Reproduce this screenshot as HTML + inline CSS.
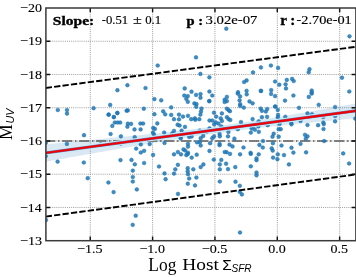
<!DOCTYPE html><html><head><meta charset="utf-8"><style>circle{fill:#1f77b4;fill-opacity:0.85;stroke:#1f77b4;stroke-opacity:0.85;stroke-width:0.6px;}html,body{margin:0;padding:0;background:#fff;}svg{display:block;}</style></head><body>
<div style="will-change:transform;width:356px;height:277px"><svg width="356" height="277" viewBox="0 0 356 277">
<rect width="356" height="277" fill="#fff"/>
<defs><clipPath id="c"><rect x="45.9" y="8.0" width="310.0" height="232.7"/></clipPath></defs>
<path d="M90.25 8.0V240.7M152.60 8.0V240.7M214.95 8.0V240.7M277.30 8.0V240.7M339.65 8.0V240.7M45.9 41.24H355.9M45.9 74.49H355.9M45.9 107.73H355.9M45.9 140.97H355.9M45.9 174.21H355.9M45.9 207.46H355.9" stroke="#939393" stroke-width="0.9" stroke-dasharray="1 1.1" fill="none"/>
<g clip-path="url(#c)">
<polygon points="45.90,144.14 51.07,143.66 56.23,143.17 61.40,142.69 66.57,142.20 71.73,141.71 76.90,141.22 82.07,140.73 87.23,140.24 92.40,139.74 97.57,139.24 102.73,138.74 107.90,138.24 113.07,137.73 118.23,137.22 123.40,136.70 128.57,136.19 133.73,135.66 138.90,135.14 144.07,134.60 149.23,134.06 154.40,133.52 159.57,132.97 164.73,132.40 169.90,131.83 175.07,131.25 180.23,130.66 185.40,130.06 190.57,129.45 195.73,128.82 200.90,128.18 206.07,127.52 211.23,126.85 216.40,126.16 221.57,125.45 226.73,124.73 231.90,124.00 237.07,123.25 242.23,122.48 247.40,121.70 252.57,120.91 257.73,120.11 262.90,119.29 268.07,118.46 273.23,117.63 278.40,116.78 283.57,115.93 288.73,115.07 293.90,114.21 299.07,113.34 304.23,112.46 309.40,111.58 314.57,110.69 319.73,109.80 324.90,108.91 330.07,108.01 335.23,107.11 340.40,106.21 345.57,105.31 350.73,104.40 355.90,103.49 355.90,118.17 350.73,118.66 345.57,119.16 340.40,119.65 335.23,120.15 330.07,120.66 324.90,121.16 319.73,121.67 314.57,122.18 309.40,122.70 304.23,123.22 299.07,123.75 293.90,124.28 288.73,124.81 283.57,125.36 278.40,125.91 273.23,126.46 268.07,127.03 262.90,127.61 257.73,128.19 252.57,128.79 247.40,129.40 242.23,130.02 237.07,130.66 231.90,131.31 226.73,131.98 221.57,132.66 216.40,133.36 211.23,134.07 206.07,134.80 200.90,135.55 195.73,136.31 190.57,137.08 185.40,137.87 180.23,138.67 175.07,139.48 169.90,140.30 164.73,141.14 159.57,141.98 154.40,142.83 149.23,143.68 144.07,144.55 138.90,145.41 133.73,146.29 128.57,147.17 123.40,148.05 118.23,148.94 113.07,149.83 107.90,150.73 102.73,151.63 97.57,152.53 92.40,153.43 87.23,154.34 82.07,155.25 76.90,156.16 71.73,157.07 66.57,157.98 61.40,158.90 56.23,159.81 51.07,160.73 45.90,161.65" fill="#1f77b4" fill-opacity="0.17"/>
<path d="M45.9 140.97H355.9" stroke="#5c5c5c" stroke-width="1.6" stroke-dasharray="10.25 2.58 1.6 2.57" stroke-dashoffset="0.8" fill="none"/>
<circle cx="157.7" cy="65.5" r="1.85"/>
<circle cx="196" cy="57.3" r="1.85"/>
<circle cx="226.3" cy="28.7" r="1.85"/>
<circle cx="349.5" cy="36.3" r="1.85"/>
<circle cx="57.8" cy="110" r="1.85"/>
<circle cx="67.0" cy="110" r="1.85"/>
<circle cx="67.0" cy="113.6" r="1.85"/>
<circle cx="93.6" cy="108.2" r="1.85"/>
<circle cx="110.2" cy="104.9" r="1.85"/>
<circle cx="117.4" cy="90.2" r="1.85"/>
<circle cx="108.6" cy="114.6" r="1.85"/>
<circle cx="113.8" cy="117.1" r="1.85"/>
<circle cx="117.4" cy="113.0" r="1.85"/>
<circle cx="127.4" cy="85.2" r="1.85"/>
<circle cx="145.5" cy="88.0" r="1.85"/>
<circle cx="200.4" cy="73.9" r="1.85"/>
<circle cx="209.4" cy="77.3" r="1.85"/>
<circle cx="184.7" cy="88.4" r="1.85"/>
<circle cx="191.5" cy="91.7" r="1.85"/>
<circle cx="209.4" cy="91.5" r="1.85"/>
<circle cx="260.9" cy="67.4" r="1.85"/>
<circle cx="270.9" cy="65.5" r="1.85"/>
<circle cx="278.1" cy="67.9" r="1.85"/>
<circle cx="253" cy="72.4" r="1.85"/>
<circle cx="244.1" cy="82" r="1.85"/>
<circle cx="246.6" cy="80.4" r="1.85"/>
<circle cx="275.1" cy="81.5" r="1.85"/>
<circle cx="279.3" cy="84.7" r="1.85"/>
<circle cx="238" cy="92.2" r="1.85"/>
<circle cx="246.6" cy="90.8" r="1.85"/>
<circle cx="260.9" cy="91" r="1.85"/>
<circle cx="271.2" cy="90.1" r="1.85"/>
<circle cx="309.5" cy="69.2" r="1.85"/>
<circle cx="308.7" cy="72.2" r="1.85"/>
<circle cx="286.8" cy="79.9" r="1.85"/>
<circle cx="292.1" cy="78.9" r="1.85"/>
<circle cx="293.7" cy="81" r="1.85"/>
<circle cx="285.6" cy="84.3" r="1.85"/>
<circle cx="286" cy="88.4" r="1.85"/>
<circle cx="342" cy="77.7" r="1.85"/>
<circle cx="311.7" cy="90.5" r="1.85"/>
<circle cx="311.7" cy="92.5" r="1.85"/>
<circle cx="349.3" cy="91.5" r="1.85"/>
<circle cx="84" cy="135.2" r="1.85"/>
<circle cx="154.4" cy="99.1" r="1.85"/>
<circle cx="161.2" cy="100.3" r="1.85"/>
<circle cx="126.6" cy="110.7" r="1.85"/>
<circle cx="127.8" cy="110.4" r="1.85"/>
<circle cx="143.8" cy="108.7" r="1.85"/>
<circle cx="108.7" cy="114.6" r="1.85"/>
<circle cx="117.3" cy="112.9" r="1.85"/>
<circle cx="113.9" cy="117" r="1.85"/>
<circle cx="154.4" cy="114.2" r="1.85"/>
<circle cx="163.2" cy="111.3" r="1.85"/>
<circle cx="165.2" cy="114.3" r="1.85"/>
<circle cx="114.8" cy="122.5" r="1.85"/>
<circle cx="117.6" cy="122.5" r="1.85"/>
<circle cx="120.2" cy="122.5" r="1.85"/>
<circle cx="112.3" cy="125.9" r="1.85"/>
<circle cx="127.8" cy="123.7" r="1.85"/>
<circle cx="131.1" cy="123.9" r="1.85"/>
<circle cx="127.4" cy="126.7" r="1.85"/>
<circle cx="140.4" cy="123.5" r="1.85"/>
<circle cx="143.1" cy="123.5" r="1.85"/>
<circle cx="157.3" cy="123.4" r="1.85"/>
<circle cx="134.5" cy="129.4" r="1.85"/>
<circle cx="140.6" cy="129.4" r="1.85"/>
<circle cx="153.2" cy="127.9" r="1.85"/>
<circle cx="154.9" cy="128.9" r="1.85"/>
<circle cx="152.9" cy="132.6" r="1.85"/>
<circle cx="153.9" cy="134.3" r="1.85"/>
<circle cx="110.6" cy="134" r="1.85"/>
<circle cx="120.9" cy="136.3" r="1.85"/>
<circle cx="134.7" cy="137.2" r="1.85"/>
<circle cx="164.2" cy="132.5" r="1.85"/>
<circle cx="184.3" cy="95.5" r="1.85"/>
<circle cx="187.8" cy="96.1" r="1.85"/>
<circle cx="186.3" cy="98.8" r="1.85"/>
<circle cx="187.8" cy="101.8" r="1.85"/>
<circle cx="196.1" cy="94.9" r="1.85"/>
<circle cx="200.5" cy="94.1" r="1.85"/>
<circle cx="200.5" cy="97.7" r="1.85"/>
<circle cx="194.4" cy="103.4" r="1.85"/>
<circle cx="196.5" cy="104" r="1.85"/>
<circle cx="196.2" cy="106.8" r="1.85"/>
<circle cx="171.2" cy="107.4" r="1.85"/>
<circle cx="201.5" cy="108.5" r="1.85"/>
<circle cx="201" cy="111.5" r="1.85"/>
<circle cx="200.4" cy="114.6" r="1.85"/>
<circle cx="171.2" cy="114.9" r="1.85"/>
<circle cx="179" cy="114.6" r="1.85"/>
<circle cx="183" cy="116.6" r="1.85"/>
<circle cx="188" cy="115.8" r="1.85"/>
<circle cx="174" cy="119.2" r="1.85"/>
<circle cx="179" cy="119.3" r="1.85"/>
<circle cx="191.2" cy="119.2" r="1.85"/>
<circle cx="194.8" cy="118.3" r="1.85"/>
<circle cx="195.3" cy="119.7" r="1.85"/>
<circle cx="199.3" cy="119.2" r="1.85"/>
<circle cx="212.3" cy="95.5" r="1.85"/>
<circle cx="209.3" cy="101.1" r="1.85"/>
<circle cx="226.9" cy="96.9" r="1.85"/>
<circle cx="224.7" cy="99.7" r="1.85"/>
<circle cx="226.9" cy="101.1" r="1.85"/>
<circle cx="224.7" cy="102" r="1.85"/>
<circle cx="237.8" cy="93.6" r="1.85"/>
<circle cx="240.1" cy="96.4" r="1.85"/>
<circle cx="239.6" cy="100.3" r="1.85"/>
<circle cx="240.2" cy="104.2" r="1.85"/>
<circle cx="240.1" cy="105.9" r="1.85"/>
<circle cx="243.8" cy="107.6" r="1.85"/>
<circle cx="226.9" cy="108.7" r="1.85"/>
<circle cx="228.6" cy="110.1" r="1.85"/>
<circle cx="229.9" cy="111.2" r="1.85"/>
<circle cx="214" cy="112.7" r="1.85"/>
<circle cx="221.9" cy="113.4" r="1.85"/>
<circle cx="216.2" cy="116.6" r="1.85"/>
<circle cx="220.7" cy="118.3" r="1.85"/>
<circle cx="226.9" cy="117.2" r="1.85"/>
<circle cx="228.6" cy="119.1" r="1.85"/>
<circle cx="230.3" cy="120" r="1.85"/>
<circle cx="209.5" cy="120.5" r="1.85"/>
<circle cx="212.3" cy="120.5" r="1.85"/>
<circle cx="221.9" cy="120.9" r="1.85"/>
<circle cx="241" cy="122" r="1.85"/>
<circle cx="215.7" cy="122.4" r="1.85"/>
<circle cx="246.7" cy="94.3" r="1.85"/>
<circle cx="271.1" cy="93.9" r="1.85"/>
<circle cx="275.1" cy="96.1" r="1.85"/>
<circle cx="285.0" cy="100.6" r="1.85"/>
<circle cx="249.5" cy="101.4" r="1.85"/>
<circle cx="252.6" cy="103.3" r="1.85"/>
<circle cx="260.7" cy="108.5" r="1.85"/>
<circle cx="261.9" cy="110.8" r="1.85"/>
<circle cx="265.8" cy="111.5" r="1.85"/>
<circle cx="267.2" cy="109" r="1.85"/>
<circle cx="275.1" cy="106.5" r="1.85"/>
<circle cx="277.8" cy="109.9" r="1.85"/>
<circle cx="278.1" cy="114.9" r="1.85"/>
<circle cx="277.8" cy="117.2" r="1.85"/>
<circle cx="261.9" cy="117.2" r="1.85"/>
<circle cx="267.1" cy="116.8" r="1.85"/>
<circle cx="252.6" cy="119.1" r="1.85"/>
<circle cx="258.7" cy="121.3" r="1.85"/>
<circle cx="285.3" cy="116.8" r="1.85"/>
<circle cx="293.4" cy="95.5" r="1.85"/>
<circle cx="311.7" cy="93.6" r="1.85"/>
<circle cx="308.8" cy="96.9" r="1.85"/>
<circle cx="318.7" cy="104.8" r="1.85"/>
<circle cx="299" cy="107.8" r="1.85"/>
<circle cx="307.5" cy="113.4" r="1.85"/>
<circle cx="312" cy="114.3" r="1.85"/>
<circle cx="309.2" cy="116.8" r="1.85"/>
<circle cx="300.5" cy="120.9" r="1.85"/>
<circle cx="323.2" cy="117" r="1.85"/>
<circle cx="291.2" cy="122.8" r="1.85"/>
<circle cx="323.3" cy="122.6" r="1.85"/>
<circle cx="335.1" cy="107" r="1.85"/>
<circle cx="335.1" cy="116" r="1.85"/>
<circle cx="335.1" cy="121.3" r="1.85"/>
<circle cx="355.3" cy="118.6" r="1.85"/>
<circle cx="177.6" cy="124.7" r="1.85"/>
<circle cx="179.6" cy="125.5" r="1.85"/>
<circle cx="185" cy="126.9" r="1.85"/>
<circle cx="174" cy="130.9" r="1.85"/>
<circle cx="172.3" cy="133.3" r="1.85"/>
<circle cx="181.6" cy="130.6" r="1.85"/>
<circle cx="180.7" cy="137" r="1.85"/>
<circle cx="180.7" cy="138.5" r="1.85"/>
<circle cx="189.2" cy="137" r="1.85"/>
<circle cx="191.6" cy="136.5" r="1.85"/>
<circle cx="199.8" cy="130.6" r="1.85"/>
<circle cx="203.2" cy="135.9" r="1.85"/>
<circle cx="200.7" cy="138.2" r="1.85"/>
<circle cx="164.5" cy="143" r="1.85"/>
<circle cx="188" cy="143.8" r="1.85"/>
<circle cx="188" cy="146.6" r="1.85"/>
<circle cx="197" cy="142.3" r="1.85"/>
<circle cx="199.8" cy="142.3" r="1.85"/>
<circle cx="200.7" cy="145.5" r="1.85"/>
<circle cx="183.5" cy="149.4" r="1.85"/>
<circle cx="185.2" cy="150.5" r="1.85"/>
<circle cx="177.9" cy="152" r="1.85"/>
<circle cx="188" cy="152.8" r="1.85"/>
<circle cx="214.2" cy="124.3" r="1.85"/>
<circle cx="218.5" cy="123.6" r="1.85"/>
<circle cx="221.3" cy="126.4" r="1.85"/>
<circle cx="209.5" cy="128.4" r="1.85"/>
<circle cx="206.7" cy="131.8" r="1.85"/>
<circle cx="228.4" cy="132" r="1.85"/>
<circle cx="237.8" cy="129.2" r="1.85"/>
<circle cx="219.6" cy="134" r="1.85"/>
<circle cx="219.8" cy="136.3" r="1.85"/>
<circle cx="228" cy="136.3" r="1.85"/>
<circle cx="214" cy="136.3" r="1.85"/>
<circle cx="212.3" cy="138.2" r="1.85"/>
<circle cx="234.4" cy="138.7" r="1.85"/>
<circle cx="210.1" cy="143.2" r="1.85"/>
<circle cx="219.6" cy="143.8" r="1.85"/>
<circle cx="219.6" cy="145.2" r="1.85"/>
<circle cx="229.5" cy="144.6" r="1.85"/>
<circle cx="232.5" cy="146.4" r="1.85"/>
<circle cx="243.5" cy="147.5" r="1.85"/>
<circle cx="209.5" cy="150.9" r="1.85"/>
<circle cx="252.9" cy="126.6" r="1.85"/>
<circle cx="258.3" cy="126.4" r="1.85"/>
<circle cx="267.7" cy="125.2" r="1.85"/>
<circle cx="279.6" cy="123.9" r="1.85"/>
<circle cx="251.7" cy="128.6" r="1.85"/>
<circle cx="254.9" cy="129.7" r="1.85"/>
<circle cx="250.8" cy="132.6" r="1.85"/>
<circle cx="258.8" cy="131.8" r="1.85"/>
<circle cx="278.7" cy="129.2" r="1.85"/>
<circle cx="280.7" cy="129.2" r="1.85"/>
<circle cx="273.7" cy="133.7" r="1.85"/>
<circle cx="272.5" cy="136.7" r="1.85"/>
<circle cx="278.7" cy="136.7" r="1.85"/>
<circle cx="263" cy="141" r="1.85"/>
<circle cx="272.9" cy="143.2" r="1.85"/>
<circle cx="259.4" cy="144.9" r="1.85"/>
<circle cx="262.8" cy="147.5" r="1.85"/>
<circle cx="271.7" cy="148.3" r="1.85"/>
<circle cx="272.7" cy="150.6" r="1.85"/>
<circle cx="281.5" cy="145.5" r="1.85"/>
<circle cx="291.5" cy="124.3" r="1.85"/>
<circle cx="307.5" cy="125" r="1.85"/>
<circle cx="318.1" cy="125.2" r="1.85"/>
<circle cx="323.8" cy="124.1" r="1.85"/>
<circle cx="323.5" cy="129" r="1.85"/>
<circle cx="305" cy="134.8" r="1.85"/>
<circle cx="307.5" cy="136.3" r="1.85"/>
<circle cx="305.8" cy="138.7" r="1.85"/>
<circle cx="300.5" cy="143.8" r="1.85"/>
<circle cx="291.5" cy="147.7" r="1.85"/>
<circle cx="324.1" cy="141" r="1.85"/>
<circle cx="174" cy="154.3" r="1.85"/>
<circle cx="181" cy="154.3" r="1.85"/>
<circle cx="186.3" cy="155.1" r="1.85"/>
<circle cx="187.7" cy="153.9" r="1.85"/>
<circle cx="191.7" cy="157.6" r="1.85"/>
<circle cx="196.7" cy="154.7" r="1.85"/>
<circle cx="177.9" cy="164.8" r="1.85"/>
<circle cx="175.3" cy="169.3" r="1.85"/>
<circle cx="174" cy="173.6" r="1.85"/>
<circle cx="187.7" cy="168.2" r="1.85"/>
<circle cx="187.7" cy="171.3" r="1.85"/>
<circle cx="188" cy="174.2" r="1.85"/>
<circle cx="193.3" cy="169.3" r="1.85"/>
<circle cx="200.7" cy="167.1" r="1.85"/>
<circle cx="203.4" cy="164.4" r="1.85"/>
<circle cx="164.5" cy="173.4" r="1.85"/>
<circle cx="165.6" cy="179.2" r="1.85"/>
<circle cx="189.2" cy="178.5" r="1.85"/>
<circle cx="196.4" cy="177.5" r="1.85"/>
<circle cx="224.7" cy="152" r="1.85"/>
<circle cx="226.6" cy="152.2" r="1.85"/>
<circle cx="230" cy="153.9" r="1.85"/>
<circle cx="240.1" cy="154.3" r="1.85"/>
<circle cx="213.8" cy="159.6" r="1.85"/>
<circle cx="221.3" cy="159.9" r="1.85"/>
<circle cx="219.8" cy="164.4" r="1.85"/>
<circle cx="226.1" cy="163.7" r="1.85"/>
<circle cx="235.3" cy="167.1" r="1.85"/>
<circle cx="219.8" cy="169.3" r="1.85"/>
<circle cx="228" cy="169.1" r="1.85"/>
<circle cx="250.8" cy="153.9" r="1.85"/>
<circle cx="258.7" cy="154.3" r="1.85"/>
<circle cx="256.5" cy="158.4" r="1.85"/>
<circle cx="256.5" cy="160.2" r="1.85"/>
<circle cx="273.1" cy="157.6" r="1.85"/>
<circle cx="277.8" cy="154.3" r="1.85"/>
<circle cx="277.4" cy="159.2" r="1.85"/>
<circle cx="284" cy="155.1" r="1.85"/>
<circle cx="250.8" cy="166.3" r="1.85"/>
<circle cx="256.5" cy="172.5" r="1.85"/>
<circle cx="256.5" cy="175.3" r="1.85"/>
<circle cx="250.6" cy="152.8" r="1.85"/>
<circle cx="293.4" cy="152.6" r="1.85"/>
<circle cx="306.1" cy="152.3" r="1.85"/>
<circle cx="288.9" cy="164.4" r="1.85"/>
<circle cx="343.2" cy="153.4" r="1.85"/>
<circle cx="349.1" cy="163.5" r="1.85"/>
<circle cx="209.3" cy="101.1" r="1.85"/>
<circle cx="261.0" cy="90.8" r="1.85"/>
<circle cx="275.3" cy="106.5" r="1.85"/>
<circle cx="187.8" cy="183.7" r="1.85"/>
<circle cx="195" cy="185.4" r="1.85"/>
<circle cx="219.8" cy="181.5" r="1.85"/>
<circle cx="178" cy="193.9" r="1.85"/>
<circle cx="235.5" cy="181.7" r="1.85"/>
<circle cx="239.8" cy="185.8" r="1.85"/>
<circle cx="239.8" cy="191.8" r="1.85"/>
<circle cx="241.9" cy="194.4" r="1.85"/>
<circle cx="45.8" cy="142.7" r="1.85"/>
<circle cx="66.9" cy="143.9" r="1.85"/>
<circle cx="100.6" cy="144.4" r="1.85"/>
<circle cx="45.8" cy="155.9" r="1.85"/>
<circle cx="57.6" cy="161.6" r="1.85"/>
<circle cx="83.8" cy="162.5" r="1.85"/>
<circle cx="87.7" cy="178.2" r="1.85"/>
<circle cx="120.7" cy="143.6" r="1.85"/>
<circle cx="140.8" cy="144.4" r="1.85"/>
<circle cx="149.7" cy="144.1" r="1.85"/>
<circle cx="136.2" cy="148.6" r="1.85"/>
<circle cx="140.8" cy="152.5" r="1.85"/>
<circle cx="144.1" cy="150.8" r="1.85"/>
<circle cx="153.1" cy="154.9" r="1.85"/>
<circle cx="120.5" cy="160.1" r="1.85"/>
<circle cx="131.5" cy="159.9" r="1.85"/>
<circle cx="134.8" cy="164.3" r="1.85"/>
<circle cx="144.1" cy="163" r="1.85"/>
<circle cx="159" cy="166.5" r="1.85"/>
<circle cx="132.8" cy="170.6" r="1.85"/>
<circle cx="132.8" cy="177" r="1.85"/>
<circle cx="132.8" cy="181.5" r="1.85"/>
<circle cx="46" cy="220" r="1.85"/>
<circle cx="108.4" cy="182.5" r="1.85"/>
<circle cx="113.6" cy="192.1" r="1.85"/>
<circle cx="136.8" cy="189.4" r="1.85"/>
<circle cx="135.7" cy="215.7" r="1.85"/>
<circle cx="132.7" cy="224.8" r="1.85"/>
<circle cx="240" cy="232.5" r="1.85"/>
</g>
<g clip-path="url(#c)">
<path d="M43.9 153.17L357.9 110.56" stroke="#cdeefc" stroke-width="5.0" fill="none"/>
<path d="M43.9 153.17L357.9 110.56" stroke="#6a78a8" stroke-width="2.9" fill="none"/>
<path d="M43.9 153.17L357.9 110.56" stroke="#f00008" stroke-width="2.1" fill="none"/>
<path d="M44.9 88.08L357.9 46.51" stroke="#000" stroke-width="1.9" stroke-dasharray="6.3 2.18" stroke-dashoffset="-0.8" fill="none"/>
<path d="M44.9 216.68L357.9 174.21" stroke="#000" stroke-width="1.9" stroke-dasharray="6.3 2.18" stroke-dashoffset="-0.8" fill="none"/>
</g>
<path d="M90.25 240.7v-4.3M90.25 8.0v4.3M152.60 240.7v-4.3M152.60 8.0v4.3M214.95 240.7v-4.3M214.95 8.0v4.3M277.30 240.7v-4.3M277.30 8.0v4.3M339.65 240.7v-4.3M339.65 8.0v4.3M45.9 41.24h4.3M355.9 41.24h-4.3M45.9 74.49h4.3M355.9 74.49h-4.3M45.9 107.73h4.3M355.9 107.73h-4.3M45.9 140.97h4.3M355.9 140.97h-4.3M45.9 174.21h4.3M355.9 174.21h-4.3M45.9 207.46h4.3M355.9 207.46h-4.3" stroke="#111" stroke-width="1.4" fill="none"/>
<rect x="45.9" y="8.0" width="310.00" height="232.70" fill="none" stroke="#3a3a3a" stroke-width="1.5"/>
<text transform="matrix(1.1718,0.0000,0.0000,1.0338,19.968,12.071)" font-family="Liberation Serif" font-size="12" font-weight="normal" font-style="normal" fill="#000" stroke="#000" stroke-width="0.1">−20</text>
<text transform="matrix(1.1801,0.0000,0.0000,1.0500,19.962,45.312)" font-family="Liberation Serif" font-size="12" font-weight="normal" font-style="normal" fill="#000" stroke="#000" stroke-width="0.1">−19</text>
<text transform="matrix(1.1718,0.0000,0.0000,1.0338,19.968,78.556)" font-family="Liberation Serif" font-size="12" font-weight="normal" font-style="normal" fill="#000" stroke="#000" stroke-width="0.1">−18</text>
<text transform="matrix(1.1718,0.0000,0.0000,1.0667,19.968,111.929)" font-family="Liberation Serif" font-size="12" font-weight="normal" font-style="normal" fill="#000" stroke="#000" stroke-width="0.1">−17</text>
<text transform="matrix(1.1718,0.0000,0.0000,1.0500,19.968,145.040)" font-family="Liberation Serif" font-size="12" font-weight="normal" font-style="normal" fill="#000" stroke="#000" stroke-width="0.1">−16</text>
<text transform="matrix(1.1801,0.0000,0.0000,1.0500,19.962,178.283)" font-family="Liberation Serif" font-size="12" font-weight="normal" font-style="normal" fill="#000" stroke="#000" stroke-width="0.1">−15</text>
<text transform="matrix(1.1556,0.0000,0.0000,1.0667,19.978,211.657)" font-family="Liberation Serif" font-size="12" font-weight="normal" font-style="normal" fill="#000" stroke="#000" stroke-width="0.1">−14</text>
<text transform="matrix(1.1801,0.0000,0.0000,1.0500,19.962,244.769)" font-family="Liberation Serif" font-size="12" font-weight="normal" font-style="normal" fill="#000" stroke="#000" stroke-width="0.1">−13</text>
<text transform="matrix(1.1782,0.0000,0.0000,1.0500,77.064,252.769)" font-family="Liberation Serif" font-size="12" font-weight="normal" font-style="normal" fill="#000" stroke="#000" stroke-width="0.1">−1.5</text>
<text transform="matrix(1.1711,0.0000,0.0000,1.0338,139.418,252.771)" font-family="Liberation Serif" font-size="12" font-weight="normal" font-style="normal" fill="#000" stroke="#000" stroke-width="0.1">−1.0</text>
<text transform="matrix(1.1782,0.0000,0.0000,1.0338,201.764,252.771)" font-family="Liberation Serif" font-size="12" font-weight="normal" font-style="normal" fill="#000" stroke="#000" stroke-width="0.1">−0.5</text>
<text transform="matrix(1.1714,0.0000,0.0000,1.0338,268.214,252.771)" font-family="Liberation Serif" font-size="12" font-weight="normal" font-style="normal" fill="#000" stroke="#000" stroke-width="0.1">0.0</text>
<text transform="matrix(1.1714,0.0000,0.0000,1.0338,330.564,252.771)" font-family="Liberation Serif" font-size="12" font-weight="normal" font-style="normal" fill="#000" stroke="#000" stroke-width="0.1">0.5</text>
<text transform="matrix(1.1939,0.0000,0.0000,0.9739,52.805,24.700)" font-family="Liberation Serif" font-size="13" font-weight="bold" font-style="normal" fill="#000" stroke="#000" stroke-width="0.35">Slope:</text>
<text transform="matrix(1.0568,0.0000,0.0000,1.0215,101.772,24.372)" font-family="Liberation Serif" font-size="12" font-weight="normal" font-style="normal" fill="#000" stroke="#000" stroke-width="0.15">-0.51</text>
<text transform="matrix(1.3333,0.0000,0.0000,1.0215,132.933,24.372)" font-family="Liberation Serif" font-size="12" font-weight="normal" font-style="normal" fill="#000" stroke="#000" stroke-width="0.15">±</text>
<text transform="matrix(1.0691,0.0000,0.0000,1.0215,145.165,24.472)" font-family="Liberation Serif" font-size="12" font-weight="normal" font-style="normal" fill="#000" stroke="#000" stroke-width="0.15">0.1</text>
<text transform="matrix(1.1185,0.0000,0.0000,1.0333,186.460,25.000)" font-family="Liberation Serif" font-size="13" font-weight="bold" font-style="normal" fill="#000" stroke="#000" stroke-width="0.35">p :</text>
<text transform="matrix(1.2278,0.0000,0.0000,1.0215,205.533,24.472)" font-family="Liberation Serif" font-size="12" font-weight="normal" font-style="normal" fill="#000" stroke="#000" stroke-width="0.15">3.02e-07</text>
<text transform="matrix(1.1565,0.0000,0.0000,1.0667,280.166,25.000)" font-family="Liberation Serif" font-size="13" font-weight="bold" font-style="normal" fill="#000" stroke="#000" stroke-width="0.35">r :</text>
<text transform="matrix(1.1922,0.0000,0.0000,1.0092,296.504,24.474)" font-family="Liberation Serif" font-size="12" font-weight="normal" font-style="normal" fill="#000" stroke="#000" stroke-width="0.15">-2.70e-01</text>
<text transform="matrix(1.1233,0.0000,0.0000,1.1481,148.338,271.025)" font-family="Liberation Serif" font-size="15.5" font-weight="normal" font-style="normal" fill="#000">Log</text>
<text transform="matrix(1.2472,0.0000,0.0000,1.0244,182.276,269.872)" font-family="Liberation Serif" font-size="15.5" font-weight="normal" font-style="normal" fill="#000">Host</text>
<text transform="matrix(0.9969,0.0000,0.0000,0.9694,222.128,270.100)" font-family="Liberation Sans" font-size="15.5" font-weight="normal" font-style="normal" fill="#000">Σ</text>
<text transform="matrix(0.9630,0.0000,0.0000,0.9733,231.439,272.278)" font-family="Liberation Sans" font-size="10.5" font-weight="normal" font-style="italic" fill="#000">SFR</text>
<text transform="matrix(0.0000,-1.1094,1.1810,0.0000,12.100,140.055)" font-family="Liberation Serif" font-size="16" font-weight="normal" font-style="normal" fill="#000">M</text>
<text transform="matrix(0.0000,-1.0256,1.0712,0.0000,14.066,123.569)" font-family="Liberation Sans" font-size="10.5" font-weight="normal" font-style="italic" fill="#000">UV</text>
</svg></div></body></html>
